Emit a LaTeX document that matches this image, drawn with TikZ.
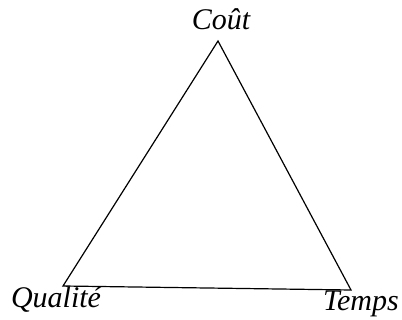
\documentclass[tikz,border=0pt]{standalone}
\usepackage{fontspec}
\setmainfont{Liberation Serif}
\usepackage{tikz}
\usetikzlibrary{positioning,calc}

\begin{document}
\begin{tikzpicture}[
  x=1pt, y=-1pt,
  side/.style={draw, line width=1.2pt, line join=miter},
  vlabel/.style={anchor=base, inner sep=0pt, font=\fontsize{30}{33}\selectfont\itshape},
]
\useasboundingbox (0,0) rectangle (402,320);
% the three corners of the triangle
\coordinate (cout) at (218,41);
\coordinate (qualite) at (63,286);
\coordinate (temps) at (351,290);

\draw[side] (cout) -- (temps) -- (qualite) -- cycle;

% corner labels
\node[vlabel] (lcout) at (221,30) {Coût};
\node[vlabel] (lqualite) at (56,308) {Qualité};
\node[vlabel] (ltemps) at (361,311) {Temps};
\end{tikzpicture}
\end{document}
